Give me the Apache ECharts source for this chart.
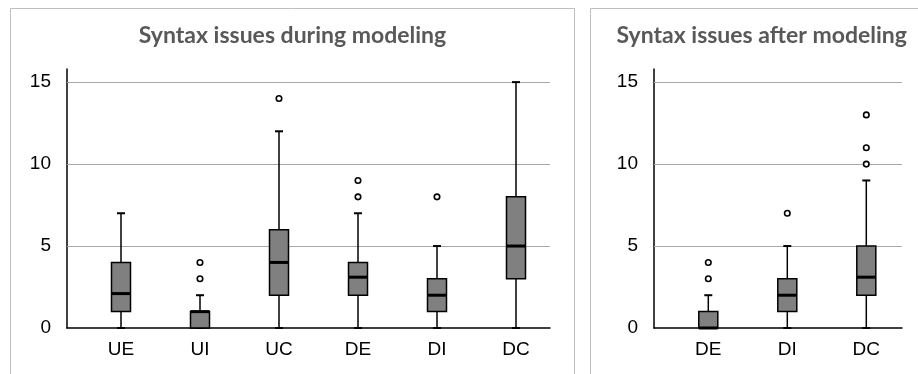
<!DOCTYPE html>
<html>
<head>
<meta charset="utf-8">
<script src="https://cdn.jsdelivr.net/npm/echarts@6/dist/echarts.min.js"></script>
<style>
html,body{margin:0;padding:0;background:#fff;}
#chart{width:918px;height:374px;}
</style>
</head>
<body>
<div id="chart"></div>
<script>
// ---- data ----
const leftTitle = 'Syntax issues during modeling';
const rightTitle = 'Syntax issues after modeling';
const yTicks = [0, 5, 10, 15];

const leftCategories = ['UE', 'UI', 'UC', 'DE', 'DI', 'DC'];
const leftMin    = [0, 0, 0, 0, 0, 0];
const leftQ1     = [1, 0, 2, 2, 1, 3];
const leftMedian = [2.1, 1, 4, 3.1, 2, 5];
const leftQ3     = [4, 1, 6, 4, 3, 8];
const leftMax    = [7, 2, 12, 7, 5, 15];
const leftOutliers = [['UI', 3], ['UI', 4], ['UC', 14], ['DE', 8], ['DE', 9], ['DI', 8]];

const rightCategories = ['DE', 'DI', 'DC'];
const rightMin    = [0, 0, 0];
const rightQ1     = [0, 1, 2];
const rightMedian = [0, 2, 3.1];
const rightQ3     = [1, 3, 5];
const rightMax    = [2, 5, 9];
const rightOutliers = [['DE', 3], ['DE', 4], ['DI', 7], ['DC', 10], ['DC', 11], ['DC', 13]];

// ---- build ----
const Y_MAX = 15.8;
const AXIS_FONT = '"Liberation Sans", Arial, sans-serif';
const TITLE_FONT = 'bold 23px Lato, "Open Sans", sans-serif';

function boxData(cats, mn, q1, med, q3, mx) {
  return cats.map((c, i) => [i, mn[i], q1[i], med[i], q3[i], mx[i]]);
}

function renderBox(params, api) {
  const x = api.coord([api.value(0), 0])[0];
  const yMin = api.coord([api.value(0), api.value(1)])[1];
  const yQ1 = api.coord([api.value(0), api.value(2)])[1];
  const yMed = api.coord([api.value(0), api.value(3)])[1];
  const yQ3 = api.coord([api.value(0), api.value(4)])[1];
  const yMax = api.coord([api.value(0), api.value(5)])[1];
  const w = 19;
  const cap = 4;
  return {
    type: 'group',
    children: [
      { type: 'line', shape: { x1: x, y1: yMin, x2: x, y2: yMax }, style: { stroke: '#000', lineWidth: 1.5 } },
      { type: 'line', shape: { x1: x - cap, y1: yMax, x2: x + cap, y2: yMax }, style: { stroke: '#000', lineWidth: 2 } },
      { type: 'line', shape: { x1: x - cap, y1: yMin, x2: x + cap, y2: yMin }, style: { stroke: '#000', lineWidth: 2 } },
      { type: 'rect', shape: { x: x - w / 2, y: yQ3, width: w, height: yQ1 - yQ3 }, style: { fill: '#808080', stroke: '#000', lineWidth: 1.5 } },
      { type: 'line', shape: { x1: x - w / 2, y1: yMed, x2: x + w / 2, y2: yMed }, style: { stroke: '#000', lineWidth: 3 } }
    ]
  };
}

// grids: 0 = left axes frame, 1 = left categories, 2 = right axes frame, 3 = right categories
const grids = [
  { left: 67, right: 918 - 550, top: 69, bottom: 46 },
  { left: 81.5, right: 918 - 555.5, top: 69, bottom: 46 },
  { left: 654, right: 918 - 902, top: 69, bottom: 46 },
  { left: 668.8, right: 918 - 905.8, top: 69, bottom: 46 }
];

function frameX(gi) {
  return {
    type: 'value', gridIndex: gi, min: 0, max: 1,
    axisLine: { show: true, onZero: false, lineStyle: { color: '#000', width: 1.5 } },
    axisTick: { show: false }, axisLabel: { show: false }, splitLine: { show: false }
  };
}
function frameY(gi) {
  return {
    type: 'value', gridIndex: gi, min: 0, max: Y_MAX, interval: 5,
    axisLine: { show: true, lineStyle: { color: '#000', width: 1.5 } },
    axisTick: { show: false },
    splitLine: { show: false },
    axisLabel: {
      color: '#000', fontSize: 19, fontFamily: AXIS_FONT, margin: 16,
      formatter: v => (yTicks.indexOf(v) >= 0 ? String(v) : '')
    }
  };
}
function catX(gi, cats) {
  return {
    type: 'category', gridIndex: gi, data: cats,
    axisLine: { show: false }, axisTick: { show: false }, splitLine: { show: false },
    axisLabel: { color: '#000', fontSize: 19, fontFamily: AXIS_FONT, margin: 12 }
  };
}
function hiddenY(gi) {
  return { type: 'value', gridIndex: gi, min: 0, max: Y_MAX, show: false, splitLine: { show: false } };
}

function gridSeries(axisIdx) {
  return {
    type: 'line', xAxisIndex: axisIdx, yAxisIndex: axisIdx, data: [], silent: true,
    markLine: {
      silent: true, symbol: ['none', 'none'], z: 1, animation: false,
      label: { show: false },
      lineStyle: { color: '#a8a8a8', width: 1.2, type: 'solid' },
      data: yTicks.filter(v => v > 0).map(v => ({ yAxis: v }))
    }
  };
}

function outlierSeries(axisIdx, pts) {
  return {
    type: 'scatter', xAxisIndex: axisIdx, yAxisIndex: axisIdx, z: 11,
    symbol: 'circle', symbolSize: 5.5,
    itemStyle: { color: '#fff', borderColor: '#000', borderWidth: 1.6, opacity: 1 },
    data: pts
  };
}

const option = {
  animation: false,
  backgroundColor: '#fff',
  grid: grids,
  xAxis: [frameX(0), catX(1, leftCategories), frameX(2), catX(3, rightCategories)],
  yAxis: [frameY(0), hiddenY(1), frameY(2), hiddenY(3)],
  series: [
    gridSeries(0),
    gridSeries(2),
    {
      type: 'custom', xAxisIndex: 1, yAxisIndex: 1, z: 10,
      renderItem: renderBox,
      encode: { x: 0, y: [1, 2, 3, 4, 5] },
      data: boxData(leftCategories, leftMin, leftQ1, leftMedian, leftQ3, leftMax)
    },
    {
      type: 'custom', xAxisIndex: 3, yAxisIndex: 3, z: 10,
      renderItem: renderBox,
      encode: { x: 0, y: [1, 2, 3, 4, 5] },
      data: boxData(rightCategories, rightMin, rightQ1, rightMedian, rightQ3, rightMax)
    },
    outlierSeries(1, leftOutliers),
    outlierSeries(3, rightOutliers)
  ],
  graphic: [
    { type: 'rect', z: -10, shape: { x: 10.5, y: 8.5, width: 564, height: 400 }, style: { fill: 'none', stroke: '#bfbfbf', lineWidth: 1 } },
    { type: 'rect', z: -10, shape: { x: 590.5, y: 8.5, width: 400, height: 400 }, style: { fill: 'none', stroke: '#bfbfbf', lineWidth: 1 } },
    { type: 'text', x: 292.5, y: 36, style: { text: leftTitle, font: TITLE_FONT, fill: '#595959', textAlign: 'center', textVerticalAlign: 'middle' } },
    { type: 'text', x: 761.7, y: 36, style: { text: rightTitle, font: TITLE_FONT, fill: '#595959', textAlign: 'center', textVerticalAlign: 'middle' } }
  ]
};

const chart = echarts.init(document.getElementById('chart'), null, { renderer: 'canvas' });
chart.setOption(option);
</script>
</body>
</html>
